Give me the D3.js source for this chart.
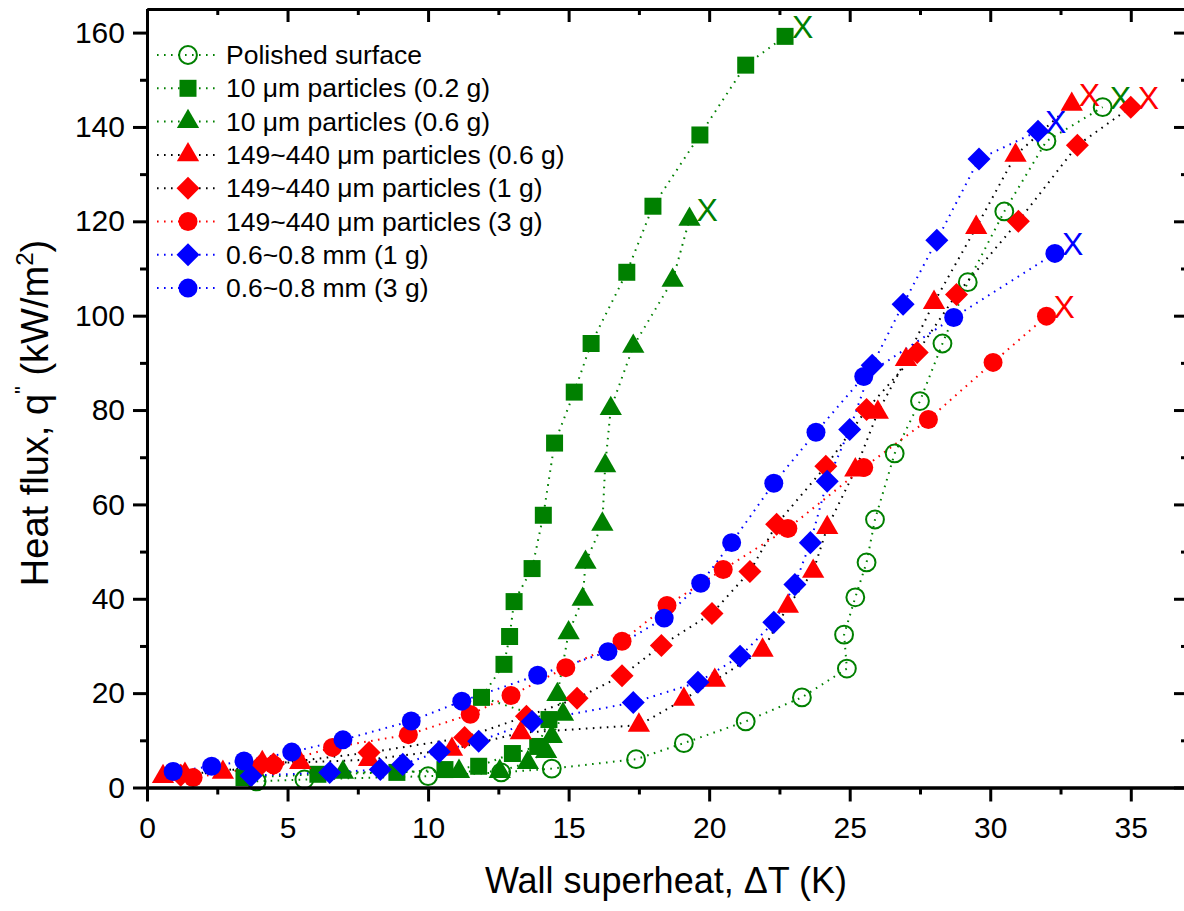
<!DOCTYPE html>
<html><head><meta charset="utf-8">
<script src="https://cdn.jsdelivr.net/npm/d3@7"></script>
<style>body{margin:0;background:#fff;} svg{display:block;font-family:Arial,"Liberation Sans",sans-serif;}</style>
</head><body><svg id="c" width="1184" height="911"></svg>
<script>
// ---- data ----
const polishedX = [3.9,5.6,10.0,12.6,14.4,17.4,19.1,21.3,23.3,24.9,24.8,25.2,25.6,25.9,26.6,27.5,28.3,29.2,30.5,32.0,34.0];
const polishedY = [1.3,1.7,2.4,3.2,4.0,6.0,9.4,14.0,19.1,25.2,32.4,40.3,47.7,56.8,70.8,81.9,94.1,107.1,122.1,137.0,144.2];

const p10a_X = [3.45,6.08,8.89,10.6,11.8,13.0,13.9,14.3,11.9,12.7,12.9,13.06,13.7,14.1,14.5,15.2,15.8,17.07,18.0,19.67,21.3,22.7];
const p10a_Y = [2.1,2.8,3.2,3.8,4.5,7.2,8.7,14.4,19.1,26.1,32.0,39.4,46.4,57.7,73.0,83.8,94.1,109.2,123.2,138.3,153.1,159.2];

const p10b_X = [6.97,11.1,12.55,13.55,14.2,14.4,14.8,14.6,15.0,15.5,15.6,16.2,16.3,16.5,17.3,18.7,19.3];
const p10b_Y = [3.2,3.4,3.4,5.3,7.6,10.8,15.5,19.7,32.8,39.9,47.7,55.8,68.2,80.3,93.5,107.5,120.4];

const p149a_X = [0.57,1.35,2.7,4.1,5.45,7.9,10.85,13.3,17.5,19.1,20.2,21.9,22.8,23.7,24.2,25.2,26.0,27.0,28.0,29.5,30.9,32.9];
const p149a_Y = [2.3,2.8,3.2,5.3,5.3,5.9,8.1,11.6,13.2,18.7,22.7,29.1,38.4,45.8,55.1,67.3,79.5,90.7,102.8,118.7,134.0,144.8];

const p149b_X = [1.2,4.0,4.5,7.9,11.3,13.5,15.3,16.9,18.3,20.1,21.45,22.4,24.15,25.6,27.4,28.8,31.0,33.1,35.0];
const p149b_Y = [2.6,4.5,5.0,7.4,10.6,15.1,18.9,23.7,30.1,36.9,45.8,55.8,68.1,80.1,92.2,104.5,120.0,136.1,144.2];

const p149c_X = [1.64,4.5,6.6,9.3,11.5,12.95,14.9,16.9,18.5,20.5,22.8,25.5,27.8,30.1,32.0];
const p149c_Y = [2.1,4.8,8.5,11.2,15.5,19.5,25.4,31.0,38.6,46.2,54.9,67.8,78.0,90.1,99.9];

const mm1_X = [3.7,6.5,8.3,9.1,10.4,11.8,13.7,17.3,19.6,21.1,22.3,23.05,23.6,24.2,25.0,25.8,26.9,28.1,29.6,31.7];
const mm1_Y = [2.5,3.2,3.8,4.9,7.6,9.8,14.0,18.0,22.3,27.8,35.0,43.0,51.9,64.9,75.9,89.5,102.4,116.0,133.2,139.1];

const mm3_X = [0.93,2.3,3.45,5.15,6.97,9.4,11.2,13.9,16.4,18.4,19.7,20.8,22.3,23.8,25.5,28.7,32.3];
const mm3_Y = [3.4,4.5,5.6,7.5,10.1,14.1,18.3,23.8,28.8,35.9,43.3,51.9,64.5,75.3,87.1,99.6,113.2];

const seriesNames = ["Polished surface","10 \u03bcm particles (0.2 g)","10 \u03bcm particles (0.6 g)",
  "149~440 \u03bcm particles (0.6 g)","149~440 \u03bcm particles (1 g)","149~440 \u03bcm particles (3 g)",
  "0.6~0.8 mm (1 g)","0.6~0.8 mm (3 g)"];
const xTicks = [0,5,10,15,20,25,30,35];
const yTicks = [0,20,40,60,80,100,120,140,160];
const xLabel = "Wall superheat, \u0394T (K)";

// ---- styles ----
const GREEN="#008000", RED="#ff0000", BLUE="#0000ff";
const styles = [
  {shape:"ocircle", fill:GREEN, line:GREEN},
  {shape:"square", fill:GREEN, line:GREEN},
  {shape:"triangle", fill:GREEN, line:GREEN},
  {shape:"triangle", fill:RED, line:"#000"},
  {shape:"diamond", fill:RED, line:"#000"},
  {shape:"circle", fill:RED, line:RED},
  {shape:"diamond", fill:BLUE, line:BLUE},
  {shape:"circle", fill:BLUE, line:BLUE}
];
const xs=[polishedX,p10a_X,p10b_X,p149a_X,p149b_X,p149c_X,mm1_X,mm3_X];
const ys=[polishedY,p10a_Y,p10b_Y,p149a_Y,p149b_Y,p149c_Y,mm1_Y,mm3_Y];
const series = seriesNames.map((n,i)=>({name:n, ...styles[i], pts: xs[i].map((x,j)=>({x, y:ys[i][j]}))}));

const svg = d3.select("#c");
const L=147, R=1187, T=9, B=787.5;
const x = d3.scaleLinear().domain([0,37]).range([L,R]);
const y = d3.scaleLinear().domain([0,165]).range([B,T]);

function symPath(shape){
  if(shape==="square") return d3.symbol(d3.symbolSquare, 289)();
  if(shape==="triangle") return d3.symbol(d3.symbolTriangle, 215)();
  if(shape==="diamond") return d3.symbol(d3.symbolSquare, 265)();
  if(shape==="ocircle") return d3.symbol(d3.symbolCircle, 250)();
  return d3.symbol(d3.symbolCircle, 283)();
}
function drawMarker(g, s, cx, cy){
  const p = g.append("path").attr("d", symPath(s.shape))
    .attr("transform", `translate(${cx},${cy})` + (s.shape==="diamond"?" rotate(45)":""));
  if(s.shape==="ocircle") p.attr("fill","none").attr("stroke",s.fill).attr("stroke-width",2);
  else p.attr("fill", s.fill);
}

// lines
const line = d3.line().x(d=>x(d.x)).y(d=>y(d.y));
series.forEach(s=>{
  svg.append("path").datum(s.pts).attr("d",line).attr("fill","none")
    .attr("stroke",s.line).attr("stroke-width",2).attr("stroke-dasharray","1.6,5.4");
});
// markers
series.forEach(s=>{
  const g = svg.append("g");
  s.pts.forEach(d=>drawMarker(g, s, x(d.x), y(d.y)));
  const last = s.pts[s.pts.length-1];
  svg.append("text").attr("x", x(last.x)+7).attr("y", y(last.y)+2)
    .attr("font-size",32).attr("fill", s.fill).text("X");
});

// axes
function styleAxis(g){
  g.select(".domain").attr("stroke","#000").attr("stroke-width",3);
  g.selectAll(".tick line").attr("stroke","#000").attr("stroke-width",3);
  g.selectAll(".tick text").attr("font-size",30).attr("fill","#000").attr("font-family","Arial, 'Liberation Sans', sans-serif");
}
const xMinor = d3.range(0,37.01,2.5).filter(v=>v%5!==0);
const yMinor = d3.range(10,165,20);
svg.append("g").attr("transform",`translate(0,${B})`)
  .call(d3.axisBottom(x).tickValues(xMinor).tickSize(7).tickSizeOuter(0).tickFormat("")).call(styleAxis);
svg.append("g").attr("transform",`translate(0,${B})`)
  .call(d3.axisBottom(x).tickValues(xTicks).tickSize(14).tickPadding(15).tickSizeOuter(0).tickFormat(d3.format("d"))).call(styleAxis);
svg.append("g").attr("transform",`translate(${L},0)`)
  .call(d3.axisLeft(y).tickValues(yMinor).tickSize(7).tickSizeOuter(0).tickFormat("")).call(styleAxis);
svg.append("g").attr("transform",`translate(${L},0)`)
  .call(d3.axisLeft(y).tickValues(yTicks).tickSize(14).tickPadding(8).tickSizeOuter(0).tickFormat(d3.format("d"))).call(styleAxis);
svg.append("g").attr("transform",`translate(0,${T})`)
  .call(d3.axisTop(x).tickValues(xMinor).tickSize(-6).tickSizeOuter(0).tickFormat("")).call(styleAxis);
svg.append("g").attr("transform",`translate(0,${T})`)
  .call(d3.axisTop(x).tickValues(xTicks).tickSize(-13).tickSizeOuter(0).tickFormat("")).call(styleAxis);
svg.append("g").attr("transform",`translate(${R},0)`)
  .call(d3.axisRight(y).tickValues(yMinor).tickSize(-6).tickSizeOuter(0).tickFormat("")).call(styleAxis);
svg.append("g").attr("transform",`translate(${R},0)`)
  .call(d3.axisRight(y).tickValues(yTicks).tickSize(-13).tickSizeOuter(0).tickFormat("")).call(styleAxis);

// axis titles
svg.append("text").attr("x",(L+R)/2-1).attr("y",893).attr("text-anchor","middle")
  .attr("font-size",36).text(xLabel);
const yt = svg.append("text").attr("transform","translate(48,413) rotate(-90)").attr("text-anchor","middle").attr("font-size",38);
yt.append("tspan").text("Heat flux, q");
yt.append("tspan").attr("font-size",22).attr("dy",-18).text("\"");
yt.append("tspan").attr("dy",18).text(" (kW/m");
yt.append("tspan").attr("font-size",24).attr("dy",-15).text("2");
yt.append("tspan").attr("dy",15).text(")");

// legend
const lg = svg.append("g");
series.forEach((s,i)=>{
  const cy = 55 + i*33.3;
  lg.append("line").attr("x1",157).attr("x2",215).attr("y1",cy).attr("y2",cy)
    .attr("stroke",s.line).attr("stroke-width",2).attr("stroke-dasharray","1.6,5.4");
  drawMarker(lg, s, 188, cy);
  lg.append("text").attr("x",226).attr("y",cy+9).attr("font-size",26.5).text(s.name);
});
</script></body></html>
